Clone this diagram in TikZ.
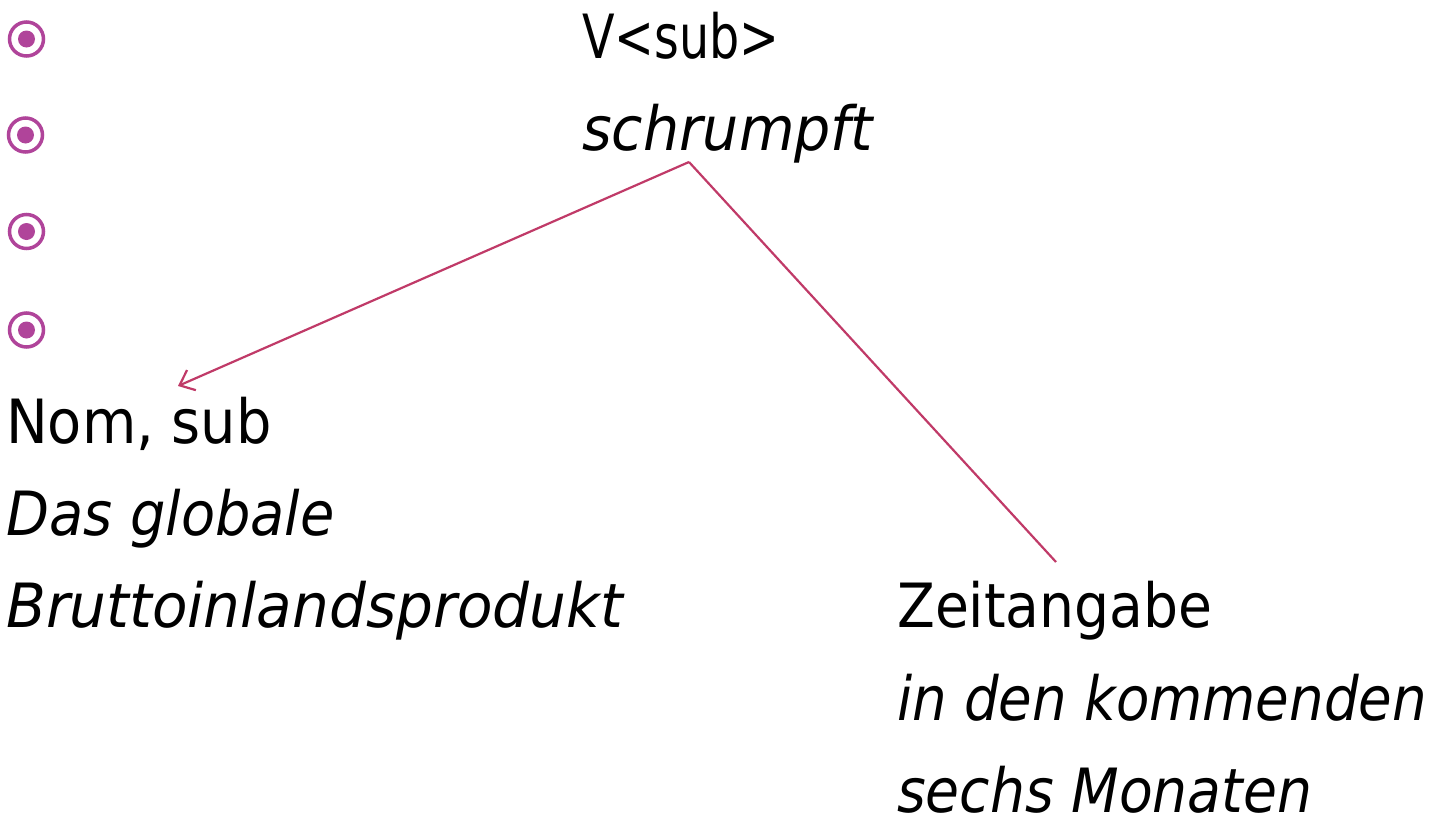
\documentclass[tikz,border=0pt]{standalone}
\usepackage{fontspec}
\setmainfont{DejaVu Sans}
\usetikzlibrary{arrows.meta}
\definecolor{bulletcol}{HTML}{B0449A}
\definecolor{linkcol}{HTML}{C03A68}
\tikzset{
  lbl/.style={anchor=base west, inner sep=0pt, font=\fontsize{61}{70}\selectfont},
  ex/.style={lbl, font=\fontsize{61}{70}\selectfont\itshape},
  link/.style={draw=linkcol, line width=2.2pt},
}
% horizontally condensed text
\newcommand{\narrow}[2]{\scalebox{#1}[1]{#2}}
\newcommand{\ringbullet}[2]{%
  \node[circle, draw=bulletcol, line width=3.5pt, minimum size=34pt, inner sep=0pt] (#1) at #2 {};
  \fill[bulletcol] (#1.center) circle (8.5pt);}
\begin{document}
\begin{tikzpicture}[x=1pt,y=-1pt]
\useasboundingbox (0,0) rectangle (1444,822);
% bullet column
\ringbullet{b1}{(26.5,39)}
\ringbullet{b2}{(25.5,135)}
\ringbullet{b3}{(26.5,231.5)}
\ringbullet{b4}{(26.5,330)}
% verb
\node[lbl] (vcat) at (582,58) {\narrow{0.78}{V<sub>}};
\node[ex] (verb) at (582,150) {\narrow{0.935}{schrumpft}};
% subject
\node[lbl] (scat) at (6,443) {\narrow{0.915}{Nom, sub}};
\node[ex] (s1) at (6,535) {\narrow{0.915}{Das globale}};
\node[ex] (s2) at (6,627) {\narrow{0.952}{Bruttoinlandsprodukt}};
% adverbial
\node[lbl] (zcat) at (897,627) {\narrow{0.905}{Zeitangabe}};
\node[ex] (z1) at (897,720) {\narrow{0.895}{in den kommenden}};
\node[ex] (z2) at (897,812) {\smash{\narrow{0.905}{sechs Monaten}}};
% dependency links
\coordinate (root) at (689,162);
\coordinate (subjend) at (178,386);
\coordinate (advend) at (1056,562);
\draw[link, -{Straight Barb[length=13pt,width=22pt]}] (root) -- (subjend);
\draw[link] (root) -- (advend);
\end{tikzpicture}
\end{document}
